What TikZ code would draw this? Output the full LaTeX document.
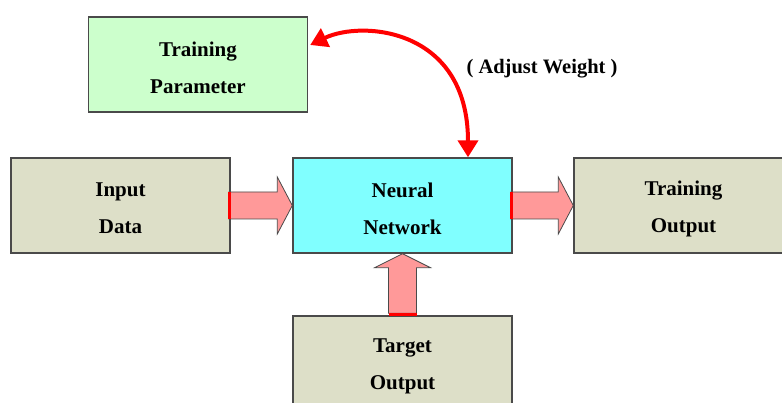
\documentclass[tikz,border=0pt]{standalone}
\usepackage{fontspec}
\setmainfont{Liberation Serif}
\usetikzlibrary{arrows.meta,calc}
\definecolor{boxgray}{HTML}{DDDFC8}
\definecolor{boxgreen}{HTML}{CCFFCC}
\definecolor{boxcyan}{HTML}{80FFFF}
\definecolor{arrowpink}{HTML}{FF9999}
\definecolor{edgegray}{HTML}{4A4A4A}
\definecolor{linkred}{HTML}{FF0000}
\tikzset{
  blockbox/.style={draw=edgegray, line width=1.4pt, minimum width=219pt,
    minimum height=95pt, inner sep=0pt},
  boxtext/.style={inner sep=0pt, align=center,
    font=\fontsize{21}{37}\selectfont\bfseries},
  fatarrow/.style={draw=edgegray, line width=0.8pt, fill=arrowpink, line join=miter},
  tailmark/.style={draw=linkred, line width=3pt},
  adjustlink/.style={draw=linkred, line width=4pt,
    {Triangle[length=17pt,width=20pt]}-{Triangle[length=17pt,width=20pt]}}
}
\begin{document}
\begin{tikzpicture}[x=1pt,y=-1pt]
\useasboundingbox (0,0) rectangle (782,403);
\clip (0,0) rectangle (782,403);
\fill[white] (0,0) rectangle (782,403);

% boxes
\node[blockbox, fill=boxgreen] (param) at (198,64.5) {};
\node[blockbox, fill=boxgray] (input) at (120.5,205.5) {};
\node[blockbox, fill=boxcyan] (net) at (402.5,205.5) {};
\node[blockbox, fill=boxgray] (tout) at (683.5,205.5) {};
\node[blockbox, fill=boxgray] (target) at (402.5,363.5) {};

% box captions
\node[boxtext] (param-text) at ([yshift=-3pt]param.center) {Training\\Parameter};
\node[boxtext] (input-text) at ([yshift=-3pt]input.center) {Input\\Data};
\node[boxtext] (net-text) at ([yshift=-3pt]net.center) {Neural\\Network};
\node[boxtext] (tout-text) at ([yshift=-3pt]tout.center) {Training\\Output};
\node[boxtext] (target-text) at ([yshift=-3pt]target.center) {Target\\Output};

% block arrow: input -> network
\draw[fatarrow]
  ([xshift=-2pt,yshift=13.5pt]input.east) -- ([xshift=-15pt,yshift=13.5pt]net.west)
  -- ([xshift=-15pt,yshift=28.5pt]net.west) -- (net.west)
  -- ([xshift=-15pt,yshift=-28.5pt]net.west) -- ([xshift=-15pt,yshift=-13.5pt]net.west)
  -- ([xshift=-2pt,yshift=-13.5pt]input.east) -- cycle;
\draw[tailmark] ([xshift=-1pt,yshift=13.5pt]input.east) -- ([xshift=-1pt,yshift=-13.5pt]input.east);

% block arrow: network -> training output
\draw[fatarrow]
  ([xshift=-2pt,yshift=13.5pt]net.east) -- ([xshift=-15pt,yshift=13.5pt]tout.west)
  -- ([xshift=-15pt,yshift=28.5pt]tout.west) -- (tout.west)
  -- ([xshift=-15pt,yshift=-28.5pt]tout.west) -- ([xshift=-15pt,yshift=-13.5pt]tout.west)
  -- ([xshift=-2pt,yshift=-13.5pt]net.east) -- cycle;
\draw[tailmark] ([xshift=-1pt,yshift=13.5pt]net.east) -- ([xshift=-1pt,yshift=-13.5pt]net.east);

% block arrow: target -> network
\draw[fatarrow]
  ([xshift=-14pt,yshift=2pt]target.north) -- ([xshift=-14pt,yshift=-14pt]net.south)
  -- ([xshift=-28pt,yshift=-14pt]net.south) -- (net.south)
  -- ([xshift=28pt,yshift=-14pt]net.south) -- ([xshift=14pt,yshift=-14pt]net.south)
  -- ([xshift=14pt,yshift=2pt]target.north) -- cycle;
\draw[tailmark] ([xshift=-14pt,yshift=1pt]target.north) -- ([xshift=14pt,yshift=1pt]target.north);

% weight adjustment link
\coordinate (linkend) at ([xshift=65.5pt]net.north);
\coordinate (linkstart) at ([xshift=2pt,yshift=19.5pt]param.east);
\draw[adjustlink] (linkstart) .. controls (362,20) and (468,28) .. (linkend);
\node[font=\fontsize{20.5}{24}\selectfont\bfseries] (adjust) at (542,69) {( Adjust Weight )};
\end{tikzpicture}
\end{document}
